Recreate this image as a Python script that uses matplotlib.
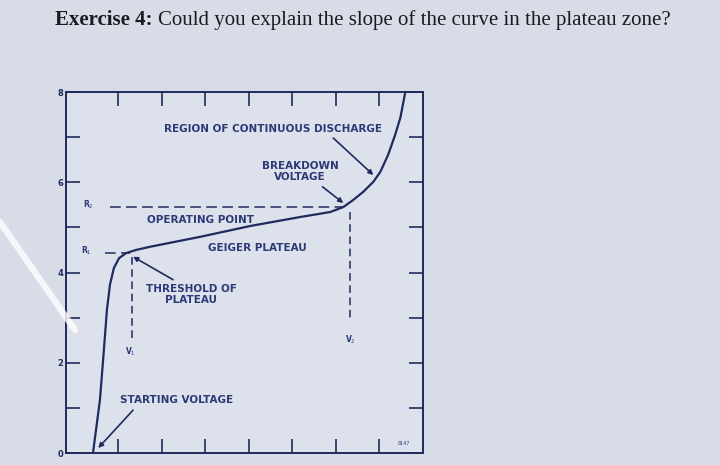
import matplotlib as mpl
mpl.use('Agg')
import matplotlib.pyplot as plt
from matplotlib.lines import Line2D

# Geiger counter characteristic (voltage, counting rate)
volt = [0.42, 0.58, 0.67, 0.74, 0.81, 0.90, 1.02, 1.18, 1.41, 1.73, 2.88,
        4.03, 5.18, 5.87, 6.17, 6.40, 6.63, 6.86, 7.02, 7.20, 7.36, 7.48, 7.59]
rate = [0.00, 1.18, 2.28, 3.17, 3.73, 4.10, 4.32, 4.43, 4.50, 4.57, 4.79,
        5.03, 5.23, 5.34, 5.45, 5.61, 5.79, 6.01, 6.23, 6.61, 7.05, 7.43, 7.98]

# reference levels
r1_level = 4.43
r2_level = 5.45
v1_volt = 1.32
v2_volt = 6.33

ytick_vals = [0, 1, 2, 3, 4, 5, 6, 7, 8]
ytick_labels = ['0', '', '2', '', '4', '', '6', '', '8']
xtick_vals = [1, 2, 3, 4, 5, 6, 7]

BG = '#d8dce7'
INK = '#1f2b5e'
TXT = '#2c3977'

fig = plt.figure(figsize=(7.2, 4.65), dpi=100, facecolor=BG)
ax = fig.add_axes([66/720, 1 - 453/465, (423 - 66)/720, (453 - 92)/465])
ax.set_facecolor('#dde1ec')
ax.set_xlim(-0.2, 8.0)
ax.set_ylim(0, 8)

for s in ax.spines.values():
    s.set_color(INK)
    s.set_linewidth(1.4)

ax.set_xticks(xtick_vals)
ax.set_xticklabels([])
ax.set_yticks(ytick_vals)
ax.set_yticklabels(ytick_labels)
ax.tick_params(axis='both', direction='in', length=10, width=1.2, color=INK,
               top=True, right=True, labelsize=6, labelcolor=INK, pad=2)
for lab in ax.get_yticklabels():
    lab.set_fontweight('bold')

# the curve
ax.plot(volt, rate, color=INK, lw=1.6, solid_capstyle='round')

# dashed reference lines
dash = (0, (7, 3.5))
ax.plot([0.81, 6.17], [r2_level, r2_level], color=INK, lw=1.1, ls=dash)
ax.plot([0.70, 1.27], [r1_level, r1_level], color=INK, lw=1.1, ls=dash)
ax.plot([v1_volt, v1_volt], [4.35, 2.50], color=INK, lw=1.1, ls=(0, (5, 3)))
ax.plot([v2_volt, v2_volt], [5.34, 2.90], color=INK, lw=1.1, ls=(0, (5, 3)))

lab_kw = dict(color=TXT, fontsize=7.5, fontweight='bold', ha='center', va='center',
              family='DejaVu Sans', linespacing=1.1)
small_kw = dict(color=TXT, fontsize=5.5, fontweight='bold', ha='center', va='center')

ax.text(0.31, 5.50, 'R$_2$', **small_kw)
ax.text(0.26, 4.48, 'R$_1$', **small_kw)
ax.text(1.27, 2.24, 'V$_1$', **small_kw)
ax.text(6.33, 2.50, 'V$_2$', **small_kw)
ax.text(7.55, 0.22, '8147', color=TXT, fontsize=3.5, ha='center', va='center')

arrow = dict(arrowstyle='-|>', color=INK, lw=1.2, mutation_scale=7, shrinkA=0, shrinkB=0)
ax.text(4.56, 7.18, 'REGION OF CONTINUOUS DISCHARGE', **lab_kw)
ax.annotate('', xy=(6.86, 6.16), xytext=(5.94, 6.98), arrowprops=arrow)
ax.text(5.18, 6.23, 'BREAKDOWN\nVOLTAGE', **lab_kw)
ax.annotate('', xy=(6.17, 5.54), xytext=(5.69, 5.90), arrowprops=arrow)
ax.text(2.88, 5.17, 'OPERATING POINT', **lab_kw)
ax.text(4.19, 4.55, 'GEIGER PLATEAU', **lab_kw)
ax.text(2.68, 3.52, 'THRESHOLD OF\nPLATEAU', **lab_kw)
ax.annotate('', xy=(1.34, 4.35), xytext=(2.26, 3.84), arrowprops=arrow)
ax.text(2.33, 1.18, 'STARTING VOLTAGE', **lab_kw)
ax.annotate('', xy=(0.54, 0.11), xytext=(1.34, 0.95), arrowprops=arrow)

# title, bold lead-in then regular text
t1 = fig.text(55/720, 1 - 20/465, 'Exercise 4:', family='Liberation Serif',
              fontweight='bold', fontsize=15, color='#1a1a24', va='center')
fig.canvas.draw()
bb = t1.get_window_extent(fig.canvas.get_renderer())
fig.text(bb.x1/720 + 5/720, 1 - 20/465,
         'Could you explain the slope of the curve in the plateau zone?',
         family='Liberation Serif', fontsize=15, color='#1a1a24', va='center')

# glare streak on the photo
fig.add_artist(Line2D([0, 75/720], [1 - 222/465, 1 - 330/465], color='white',
                      lw=4.5, alpha=0.8, solid_capstyle='round', zorder=10))

plt.savefig('out.png', dpi=100, facecolor=BG)
plt.close()
